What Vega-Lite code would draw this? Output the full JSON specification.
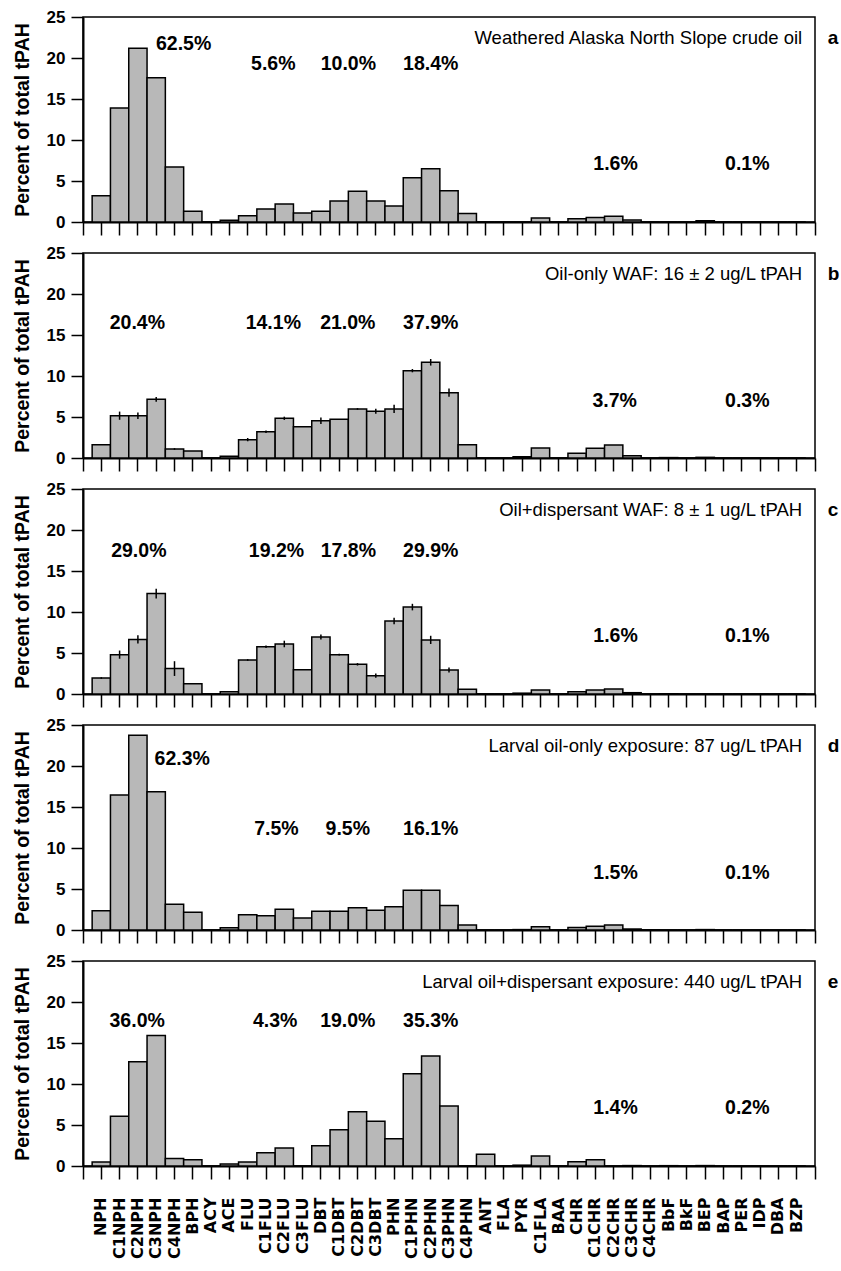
{
  "$schema": "https://vega.github.io/schema/vega-lite/v6.json",
  "background": "white",
  "padding": {"left": 11, "top": 7, "right": 2, "bottom": 2},
  "config": {
    "font": "Liberation Sans",
    "view": {"stroke": "black", "strokeWidth": 1.5},
    "axis": {"grid": false, "domainColor": "black", "domainWidth": 2, "tickColor": "black", "tickWidth": 1.5, "labelColor": "black", "titleColor": "black"}
  },
  "datasets": {
    "pah": [
      {"panel": "a", "compound": "NPH", "pct": 3.2}, {"panel": "a", "compound": "C1NPH", "pct": 13.9}, {"panel": "a", "compound": "C2NPH", "pct": 21.2}, {"panel": "a", "compound": "C3NPH", "pct": 17.6}, {"panel": "a", "compound": "C4NPH", "pct": 6.7}, {"panel": "a", "compound": "BPH", "pct": 1.3}, {"panel": "a", "compound": "ACY", "pct": 0}, {"panel": "a", "compound": "ACE", "pct": 0.2}, {"panel": "a", "compound": "FLU", "pct": 0.75}, {"panel": "a", "compound": "C1FLU", "pct": 1.6}, {"panel": "a", "compound": "C2FLU", "pct": 2.2}, {"panel": "a", "compound": "C3FLU", "pct": 1.1}, {"panel": "a", "compound": "DBT", "pct": 1.3}, {"panel": "a", "compound": "C1DBT", "pct": 2.55}, {"panel": "a", "compound": "C2DBT", "pct": 3.75}, {"panel": "a", "compound": "C3DBT", "pct": 2.55}, {"panel": "a", "compound": "PHN", "pct": 1.95}, {"panel": "a", "compound": "C1PHN", "pct": 5.4}, {"panel": "a", "compound": "C2PHN", "pct": 6.5}, {"panel": "a", "compound": "C3PHN", "pct": 3.8}, {"panel": "a", "compound": "C4PHN", "pct": 1.05}, {"panel": "a", "compound": "ANT", "pct": 0}, {"panel": "a", "compound": "FLA", "pct": 0}, {"panel": "a", "compound": "PYR", "pct": 0}, {"panel": "a", "compound": "C1FLA", "pct": 0.5}, {"panel": "a", "compound": "BAA", "pct": 0}, {"panel": "a", "compound": "CHR", "pct": 0.4}, {"panel": "a", "compound": "C1CHR", "pct": 0.55}, {"panel": "a", "compound": "C2CHR", "pct": 0.7}, {"panel": "a", "compound": "C3CHR", "pct": 0.25}, {"panel": "a", "compound": "C4CHR", "pct": 0}, {"panel": "a", "compound": "BbF", "pct": 0}, {"panel": "a", "compound": "BkF", "pct": 0}, {"panel": "a", "compound": "BEP", "pct": 0.15}, {"panel": "a", "compound": "BAP", "pct": 0}, {"panel": "a", "compound": "PER", "pct": 0}, {"panel": "a", "compound": "IDP", "pct": 0}, {"panel": "a", "compound": "DBA", "pct": 0}, {"panel": "a", "compound": "BZP", "pct": 0},

      {"panel": "b", "compound": "NPH", "pct": 1.63, "err": 0}, {"panel": "b", "compound": "C1NPH", "pct": 5.16, "err": 0.5}, {"panel": "b", "compound": "C2NPH", "pct": 5.16, "err": 0.4}, {"panel": "b", "compound": "C3NPH", "pct": 7.15, "err": 0.3}, {"panel": "b", "compound": "C4NPH", "pct": 1.1, "err": 0.1}, {"panel": "b", "compound": "BPH", "pct": 0.85, "err": 0}, {"panel": "b", "compound": "ACY", "pct": 0, "err": 0}, {"panel": "b", "compound": "ACE", "pct": 0.2, "err": 0}, {"panel": "b", "compound": "FLU", "pct": 2.24, "err": 0.2}, {"panel": "b", "compound": "C1FLU", "pct": 3.2, "err": 0.15}, {"panel": "b", "compound": "C2FLU", "pct": 4.84, "err": 0.2}, {"panel": "b", "compound": "C3FLU", "pct": 3.82, "err": 0}, {"panel": "b", "compound": "DBT", "pct": 4.55, "err": 0.4}, {"panel": "b", "compound": "C1DBT", "pct": 4.72, "err": 0}, {"panel": "b", "compound": "C2DBT", "pct": 5.98, "err": 0.1}, {"panel": "b", "compound": "C3DBT", "pct": 5.7, "err": 0.3}, {"panel": "b", "compound": "PHN", "pct": 5.98, "err": 0.5}, {"panel": "b", "compound": "C1PHN", "pct": 10.65, "err": 0.2}, {"panel": "b", "compound": "C2PHN", "pct": 11.67, "err": 0.4}, {"panel": "b", "compound": "C3PHN", "pct": 7.97, "err": 0.5}, {"panel": "b", "compound": "C4PHN", "pct": 1.63, "err": 0}, {"panel": "b", "compound": "ANT", "pct": 0, "err": 0}, {"panel": "b", "compound": "FLA", "pct": 0, "err": 0}, {"panel": "b", "compound": "PYR", "pct": 0.15, "err": 0}, {"panel": "b", "compound": "C1FLA", "pct": 1.22, "err": 0}, {"panel": "b", "compound": "BAA", "pct": 0, "err": 0}, {"panel": "b", "compound": "CHR", "pct": 0.57, "err": 0}, {"panel": "b", "compound": "C1CHR", "pct": 1.18, "err": 0}, {"panel": "b", "compound": "C2CHR", "pct": 1.59, "err": 0}, {"panel": "b", "compound": "C3CHR", "pct": 0.28, "err": 0}, {"panel": "b", "compound": "C4CHR", "pct": 0, "err": 0}, {"panel": "b", "compound": "BbF", "pct": 0.05, "err": 0}, {"panel": "b", "compound": "BkF", "pct": 0, "err": 0}, {"panel": "b", "compound": "BEP", "pct": 0.08, "err": 0}, {"panel": "b", "compound": "BAP", "pct": 0, "err": 0}, {"panel": "b", "compound": "PER", "pct": 0, "err": 0}, {"panel": "b", "compound": "IDP", "pct": 0, "err": 0}, {"panel": "b", "compound": "DBA", "pct": 0, "err": 0}, {"panel": "b", "compound": "BZP", "pct": 0, "err": 0},

      {"panel": "c", "compound": "NPH", "pct": 1.95, "err": 0.1}, {"panel": "c", "compound": "C1NPH", "pct": 4.8, "err": 0.5}, {"panel": "c", "compound": "C2NPH", "pct": 6.65, "err": 0.5}, {"panel": "c", "compound": "C3NPH", "pct": 12.25, "err": 0.6}, {"panel": "c", "compound": "C4NPH", "pct": 3.1, "err": 0.9}, {"panel": "c", "compound": "BPH", "pct": 1.26, "err": 0}, {"panel": "c", "compound": "ACY", "pct": 0, "err": 0}, {"panel": "c", "compound": "ACE", "pct": 0.28, "err": 0}, {"panel": "c", "compound": "FLU", "pct": 4.15, "err": 0.1}, {"panel": "c", "compound": "C1FLU", "pct": 5.77, "err": 0.15}, {"panel": "c", "compound": "C2FLU", "pct": 6.1, "err": 0.4}, {"panel": "c", "compound": "C3FLU", "pct": 2.97, "err": 0}, {"panel": "c", "compound": "DBT", "pct": 6.95, "err": 0.3}, {"panel": "c", "compound": "C1DBT", "pct": 4.8, "err": 0.1}, {"panel": "c", "compound": "C2DBT", "pct": 3.62, "err": 0.15}, {"panel": "c", "compound": "C3DBT", "pct": 2.24, "err": 0.25}, {"panel": "c", "compound": "PHN", "pct": 8.9, "err": 0.4}, {"panel": "c", "compound": "C1PHN", "pct": 10.6, "err": 0.4}, {"panel": "c", "compound": "C2PHN", "pct": 6.6, "err": 0.5}, {"panel": "c", "compound": "C3PHN", "pct": 2.93, "err": 0.3}, {"panel": "c", "compound": "C4PHN", "pct": 0.57, "err": 0}, {"panel": "c", "compound": "ANT", "pct": 0, "err": 0}, {"panel": "c", "compound": "FLA", "pct": 0, "err": 0}, {"panel": "c", "compound": "PYR", "pct": 0.1, "err": 0}, {"panel": "c", "compound": "C1FLA", "pct": 0.49, "err": 0}, {"panel": "c", "compound": "BAA", "pct": 0, "err": 0}, {"panel": "c", "compound": "CHR", "pct": 0.28, "err": 0}, {"panel": "c", "compound": "C1CHR", "pct": 0.49, "err": 0}, {"panel": "c", "compound": "C2CHR", "pct": 0.61, "err": 0}, {"panel": "c", "compound": "C3CHR", "pct": 0.16, "err": 0}, {"panel": "c", "compound": "C4CHR", "pct": 0, "err": 0}, {"panel": "c", "compound": "BbF", "pct": 0.03, "err": 0}, {"panel": "c", "compound": "BkF", "pct": 0, "err": 0}, {"panel": "c", "compound": "BEP", "pct": 0, "err": 0}, {"panel": "c", "compound": "BAP", "pct": 0, "err": 0}, {"panel": "c", "compound": "PER", "pct": 0, "err": 0}, {"panel": "c", "compound": "IDP", "pct": 0, "err": 0}, {"panel": "c", "compound": "DBA", "pct": 0, "err": 0}, {"panel": "c", "compound": "BZP", "pct": 0, "err": 0},

      {"panel": "d", "compound": "NPH", "pct": 2.36}, {"panel": "d", "compound": "C1NPH", "pct": 16.46}, {"panel": "d", "compound": "C2NPH", "pct": 23.74}, {"panel": "d", "compound": "C3NPH", "pct": 16.87}, {"panel": "d", "compound": "C4NPH", "pct": 3.13}, {"panel": "d", "compound": "BPH", "pct": 2.15}, {"panel": "d", "compound": "ACY", "pct": 0}, {"panel": "d", "compound": "ACE", "pct": 0.28}, {"panel": "d", "compound": "FLU", "pct": 1.87}, {"panel": "d", "compound": "C1FLU", "pct": 1.75}, {"panel": "d", "compound": "C2FLU", "pct": 2.52}, {"panel": "d", "compound": "C3FLU", "pct": 1.46}, {"panel": "d", "compound": "DBT", "pct": 2.28}, {"panel": "d", "compound": "C1DBT", "pct": 2.28}, {"panel": "d", "compound": "C2DBT", "pct": 2.72}, {"panel": "d", "compound": "C3DBT", "pct": 2.4}, {"panel": "d", "compound": "PHN", "pct": 2.85}, {"panel": "d", "compound": "C1PHN", "pct": 4.84}, {"panel": "d", "compound": "C2PHN", "pct": 4.84}, {"panel": "d", "compound": "C3PHN", "pct": 3.0}, {"panel": "d", "compound": "C4PHN", "pct": 0.6}, {"panel": "d", "compound": "ANT", "pct": 0}, {"panel": "d", "compound": "FLA", "pct": 0}, {"panel": "d", "compound": "PYR", "pct": 0.05}, {"panel": "d", "compound": "C1FLA", "pct": 0.4}, {"panel": "d", "compound": "BAA", "pct": 0}, {"panel": "d", "compound": "CHR", "pct": 0.3}, {"panel": "d", "compound": "C1CHR", "pct": 0.45}, {"panel": "d", "compound": "C2CHR", "pct": 0.6}, {"panel": "d", "compound": "C3CHR", "pct": 0.12}, {"panel": "d", "compound": "C4CHR", "pct": 0.03}, {"panel": "d", "compound": "BbF", "pct": 0}, {"panel": "d", "compound": "BkF", "pct": 0}, {"panel": "d", "compound": "BEP", "pct": 0.05}, {"panel": "d", "compound": "BAP", "pct": 0}, {"panel": "d", "compound": "PER", "pct": 0}, {"panel": "d", "compound": "IDP", "pct": 0}, {"panel": "d", "compound": "DBA", "pct": 0}, {"panel": "d", "compound": "BZP", "pct": 0},

      {"panel": "e", "compound": "NPH", "pct": 0.49}, {"panel": "e", "compound": "C1NPH", "pct": 6.06}, {"panel": "e", "compound": "C2NPH", "pct": 12.72}, {"panel": "e", "compound": "C3NPH", "pct": 15.9}, {"panel": "e", "compound": "C4NPH", "pct": 0.9}, {"panel": "e", "compound": "BPH", "pct": 0.77}, {"panel": "e", "compound": "ACY", "pct": 0}, {"panel": "e", "compound": "ACE", "pct": 0.24}, {"panel": "e", "compound": "FLU", "pct": 0.49}, {"panel": "e", "compound": "C1FLU", "pct": 1.63}, {"panel": "e", "compound": "C2FLU", "pct": 2.2}, {"panel": "e", "compound": "C3FLU", "pct": 0}, {"panel": "e", "compound": "DBT", "pct": 2.48}, {"panel": "e", "compound": "C1DBT", "pct": 4.43}, {"panel": "e", "compound": "C2DBT", "pct": 6.63}, {"panel": "e", "compound": "C3DBT", "pct": 5.45}, {"panel": "e", "compound": "PHN", "pct": 3.33}, {"panel": "e", "compound": "C1PHN", "pct": 11.26}, {"panel": "e", "compound": "C2PHN", "pct": 13.41}, {"panel": "e", "compound": "C3PHN", "pct": 7.32}, {"panel": "e", "compound": "C4PHN", "pct": 0}, {"panel": "e", "compound": "ANT", "pct": 1.42}, {"panel": "e", "compound": "FLA", "pct": 0}, {"panel": "e", "compound": "PYR", "pct": 0.1}, {"panel": "e", "compound": "C1FLA", "pct": 1.22}, {"panel": "e", "compound": "BAA", "pct": 0}, {"panel": "e", "compound": "CHR", "pct": 0.53}, {"panel": "e", "compound": "C1CHR", "pct": 0.77}, {"panel": "e", "compound": "C2CHR", "pct": 0}, {"panel": "e", "compound": "C3CHR", "pct": 0.05}, {"panel": "e", "compound": "C4CHR", "pct": 0}, {"panel": "e", "compound": "BbF", "pct": 0.04}, {"panel": "e", "compound": "BkF", "pct": 0}, {"panel": "e", "compound": "BEP", "pct": 0.05}, {"panel": "e", "compound": "BAP", "pct": 0}, {"panel": "e", "compound": "PER", "pct": 0}, {"panel": "e", "compound": "IDP", "pct": 0}, {"panel": "e", "compound": "DBA", "pct": 0}, {"panel": "e", "compound": "BZP", "pct": 0}
    ],
    "shares": [
      {"panel": "a", "label": "62.5%", "k": 5.5, "y": 21.7}, {"panel": "a", "label": "5.6%", "k": 10.4, "y": 19.3}, {"panel": "a", "label": "10.0%", "k": 14.5, "y": 19.3}, {"panel": "a", "label": "18.4%", "k": 19.0, "y": 19.3}, {"panel": "a", "label": "1.6%", "k": 29.1, "y": 7.1}, {"panel": "a", "label": "0.1%", "k": 36.3, "y": 7.1},
      {"panel": "b", "label": "20.4%", "k": 2.97, "y": 16.5}, {"panel": "b", "label": "14.1%", "k": 10.4, "y": 16.5}, {"panel": "b", "label": "21.0%", "k": 14.47, "y": 16.5}, {"panel": "b", "label": "37.9%", "k": 19.0, "y": 16.5}, {"panel": "b", "label": "3.7%", "k": 29.05, "y": 7.0}, {"panel": "b", "label": "0.3%", "k": 36.3, "y": 7.0},
      {"panel": "c", "label": "29.0%", "k": 3.05, "y": 17.4}, {"panel": "c", "label": "19.2%", "k": 10.57, "y": 17.4}, {"panel": "c", "label": "17.8%", "k": 14.5, "y": 17.4}, {"panel": "c", "label": "29.9%", "k": 19.0, "y": 17.4}, {"panel": "c", "label": "1.6%", "k": 29.1, "y": 7.1}, {"panel": "c", "label": "0.1%", "k": 36.3, "y": 7.1},
      {"panel": "d", "label": "62.3%", "k": 5.42, "y": 20.8}, {"panel": "d", "label": "7.5%", "k": 10.57, "y": 12.3}, {"panel": "d", "label": "9.5%", "k": 14.47, "y": 12.3}, {"panel": "d", "label": "16.1%", "k": 19.0, "y": 12.3}, {"panel": "d", "label": "1.5%", "k": 29.1, "y": 7.0}, {"panel": "d", "label": "0.1%", "k": 36.3, "y": 7.0},
      {"panel": "e", "label": "36.0%", "k": 2.96, "y": 17.7}, {"panel": "e", "label": "4.3%", "k": 10.5, "y": 17.7}, {"panel": "e", "label": "19.0%", "k": 14.47, "y": 17.7}, {"panel": "e", "label": "35.3%", "k": 19.0, "y": 17.7}, {"panel": "e", "label": "1.4%", "k": 29.1, "y": 7.1}, {"panel": "e", "label": "0.2%", "k": 36.3, "y": 7.1}
    ],
    "panels": [
      {"panel": "a", "title": "Weathered Alaska North Slope crude oil", "letter": "a"},
      {"panel": "b", "title": "Oil-only WAF: 16 ± 2 ug/L tPAH", "letter": "b"},
      {"panel": "c", "title": "Oil+dispersant WAF: 8 ± 1 ug/L tPAH", "letter": "c"},
      {"panel": "d", "title": "Larval oil-only exposure: 87 ug/L tPAH", "letter": "d"},
      {"panel": "e", "title": "Larval oil+dispersant exposure: 440 ug/L tPAH", "letter": "e"}
    ]
  },
  "spacing": 31,
  "bounds": "flush",
  "vconcat": [
    {
      "width": 732, "height": 205,
      "layer": [
        {
          "data": {"name": "pah"}, "transform": [{"filter": "datum.panel === 'a'"}],
          "mark": {"type": "bar", "fill": "#b8b8b8", "stroke": "black", "strokeWidth": 1.5},
          "encoding": {
            "x": {"field": "compound", "type": "nominal", "sort": null, "scale": {"paddingInner": 0, "paddingOuter": 0.5}, "axis": {"title": null, "labels": false, "tickSize": 13}},
            "y": {"field": "pct", "type": "quantitative", "scale": {"domain": [0, 25], "nice": false}, "axis": {"title": "Percent of total tPAH", "values": [0, 2.5, 5, 7.5, 10, 12.5, 15, 17.5, 20, 22.5, 25], "labelExpr": "datum.value % 5 === 0 ? datum.label : ''", "tickSize": {"condition": {"test": "datum.value % 5 === 0", "value": 12}, "value": 6}, "labelFontSize": 17, "labelFontWeight": "bold", "labelPadding": 6, "titleFontSize": 19.5, "titleFontWeight": "bold", "titlePadding": 14}}
          }
        },
        {
          "data": {"name": "shares"}, "transform": [{"filter": "datum.panel === 'a'"}],
          "mark": {"type": "text", "fontSize": 19.5, "fontWeight": "bold", "color": "black"},
          "encoding": {"x": {"field": "k", "type": "quantitative", "scale": {"domain": [0, 40]}, "axis": {"orient": "bottom", "values": [0, 40], "labels": false, "domain": false, "tickSize": 13, "title": null}}, "y": {"field": "y", "type": "quantitative"}, "text": {"field": "label"}}
        },
        {
          "data": {"name": "panels"}, "transform": [{"filter": "datum.panel === 'a'"}],
          "mark": {"type": "text", "align": "right", "fontSize": 18.5, "color": "black"},
          "encoding": {"x": {"datum": 39.3, "type": "quantitative", "scale": {"domain": [0, 40]}, "axis": null}, "y": {"datum": 22.4, "type": "quantitative"}, "text": {"field": "title"}}
        },
        {
          "data": {"name": "panels"}, "transform": [{"filter": "datum.panel === 'a'"}],
          "mark": {"type": "text", "align": "left", "fontSize": 19, "fontWeight": "bold", "color": "black"},
          "encoding": {"x": {"datum": 40.7, "type": "quantitative", "scale": {"domain": [0, 40]}, "axis": null}, "y": {"datum": 22.4, "type": "quantitative"}, "text": {"field": "letter"}}
        }
      ],
      "resolve": {"scale": {"x": "independent"}, "axis": {"x": "independent"}}
    },
    {
      "width": 732, "height": 205,
      "layer": [
        {
          "data": {"name": "pah"}, "transform": [{"filter": "datum.panel === 'b'"}],
          "layer": [
            {
              "mark": {"type": "bar", "fill": "#b8b8b8", "stroke": "black", "strokeWidth": 1.5},
              "encoding": {
                "x": {"field": "compound", "type": "nominal", "sort": null, "scale": {"paddingInner": 0, "paddingOuter": 0.5}, "axis": {"title": null, "labels": false, "tickSize": 13}},
                "y": {"field": "pct", "type": "quantitative", "title": "Percent of total tPAH", "scale": {"domain": [0, 25], "nice": false}, "axis": {"values": [0, 2.5, 5, 7.5, 10, 12.5, 15, 17.5, 20, 22.5, 25], "labelExpr": "datum.value % 5 === 0 ? datum.label : ''", "tickSize": {"condition": {"test": "datum.value % 5 === 0", "value": 12}, "value": 6}, "labelFontSize": 17, "labelFontWeight": "bold", "labelPadding": 6, "titleFontSize": 19.5, "titleFontWeight": "bold", "titlePadding": 14}}
              }
            },
            {
              "mark": {"type": "errorbar", "color": "black", "thickness": 1.5},
              "encoding": {"x": {"field": "compound", "type": "nominal", "sort": null}, "y": {"field": "pct", "type": "quantitative", "title": "Percent of total tPAH"}, "yError": {"field": "err"}}
            }
          ]
        },
        {
          "data": {"name": "shares"}, "transform": [{"filter": "datum.panel === 'b'"}],
          "mark": {"type": "text", "fontSize": 19.5, "fontWeight": "bold", "color": "black"},
          "encoding": {"x": {"field": "k", "type": "quantitative", "scale": {"domain": [0, 40]}, "axis": {"orient": "bottom", "values": [0, 40], "labels": false, "domain": false, "tickSize": 13, "title": null}}, "y": {"field": "y", "type": "quantitative"}, "text": {"field": "label"}}
        },
        {
          "data": {"name": "panels"}, "transform": [{"filter": "datum.panel === 'b'"}],
          "mark": {"type": "text", "align": "right", "fontSize": 18.5, "color": "black"},
          "encoding": {"x": {"datum": 39.3, "type": "quantitative", "scale": {"domain": [0, 40]}, "axis": null}, "y": {"datum": 22.4, "type": "quantitative"}, "text": {"field": "title"}}
        },
        {
          "data": {"name": "panels"}, "transform": [{"filter": "datum.panel === 'b'"}],
          "mark": {"type": "text", "align": "left", "fontSize": 19, "fontWeight": "bold", "color": "black"},
          "encoding": {"x": {"datum": 40.7, "type": "quantitative", "scale": {"domain": [0, 40]}, "axis": null}, "y": {"datum": 22.4, "type": "quantitative"}, "text": {"field": "letter"}}
        }
      ],
      "resolve": {"scale": {"x": "independent"}, "axis": {"x": "independent"}}
    },
    {
      "width": 732, "height": 205,
      "layer": [
        {
          "data": {"name": "pah"}, "transform": [{"filter": "datum.panel === 'c'"}],
          "layer": [
            {
              "mark": {"type": "bar", "fill": "#b8b8b8", "stroke": "black", "strokeWidth": 1.5},
              "encoding": {
                "x": {"field": "compound", "type": "nominal", "sort": null, "scale": {"paddingInner": 0, "paddingOuter": 0.5}, "axis": {"title": null, "labels": false, "tickSize": 13}},
                "y": {"field": "pct", "type": "quantitative", "title": "Percent of total tPAH", "scale": {"domain": [0, 25], "nice": false}, "axis": {"values": [0, 2.5, 5, 7.5, 10, 12.5, 15, 17.5, 20, 22.5, 25], "labelExpr": "datum.value % 5 === 0 ? datum.label : ''", "tickSize": {"condition": {"test": "datum.value % 5 === 0", "value": 12}, "value": 6}, "labelFontSize": 17, "labelFontWeight": "bold", "labelPadding": 6, "titleFontSize": 19.5, "titleFontWeight": "bold", "titlePadding": 14}}
              }
            },
            {
              "mark": {"type": "errorbar", "color": "black", "thickness": 1.5},
              "encoding": {"x": {"field": "compound", "type": "nominal", "sort": null}, "y": {"field": "pct", "type": "quantitative", "title": "Percent of total tPAH"}, "yError": {"field": "err"}}
            }
          ]
        },
        {
          "data": {"name": "shares"}, "transform": [{"filter": "datum.panel === 'c'"}],
          "mark": {"type": "text", "fontSize": 19.5, "fontWeight": "bold", "color": "black"},
          "encoding": {"x": {"field": "k", "type": "quantitative", "scale": {"domain": [0, 40]}, "axis": {"orient": "bottom", "values": [0, 40], "labels": false, "domain": false, "tickSize": 13, "title": null}}, "y": {"field": "y", "type": "quantitative"}, "text": {"field": "label"}}
        },
        {
          "data": {"name": "panels"}, "transform": [{"filter": "datum.panel === 'c'"}],
          "mark": {"type": "text", "align": "right", "fontSize": 18.5, "color": "black"},
          "encoding": {"x": {"datum": 39.3, "type": "quantitative", "scale": {"domain": [0, 40]}, "axis": null}, "y": {"datum": 22.4, "type": "quantitative"}, "text": {"field": "title"}}
        },
        {
          "data": {"name": "panels"}, "transform": [{"filter": "datum.panel === 'c'"}],
          "mark": {"type": "text", "align": "left", "fontSize": 19, "fontWeight": "bold", "color": "black"},
          "encoding": {"x": {"datum": 40.7, "type": "quantitative", "scale": {"domain": [0, 40]}, "axis": null}, "y": {"datum": 22.4, "type": "quantitative"}, "text": {"field": "letter"}}
        }
      ],
      "resolve": {"scale": {"x": "independent"}, "axis": {"x": "independent"}}
    },
    {
      "width": 732, "height": 205,
      "layer": [
        {
          "data": {"name": "pah"}, "transform": [{"filter": "datum.panel === 'd'"}],
          "mark": {"type": "bar", "fill": "#b8b8b8", "stroke": "black", "strokeWidth": 1.5},
          "encoding": {
            "x": {"field": "compound", "type": "nominal", "sort": null, "scale": {"paddingInner": 0, "paddingOuter": 0.5}, "axis": {"title": null, "labels": false, "tickSize": 13}},
            "y": {"field": "pct", "type": "quantitative", "scale": {"domain": [0, 25], "nice": false}, "axis": {"title": "Percent of total tPAH", "values": [0, 2.5, 5, 7.5, 10, 12.5, 15, 17.5, 20, 22.5, 25], "labelExpr": "datum.value % 5 === 0 ? datum.label : ''", "tickSize": {"condition": {"test": "datum.value % 5 === 0", "value": 12}, "value": 6}, "labelFontSize": 17, "labelFontWeight": "bold", "labelPadding": 6, "titleFontSize": 19.5, "titleFontWeight": "bold", "titlePadding": 14}}
          }
        },
        {
          "data": {"name": "shares"}, "transform": [{"filter": "datum.panel === 'd'"}],
          "mark": {"type": "text", "fontSize": 19.5, "fontWeight": "bold", "color": "black"},
          "encoding": {"x": {"field": "k", "type": "quantitative", "scale": {"domain": [0, 40]}, "axis": {"orient": "bottom", "values": [0, 40], "labels": false, "domain": false, "tickSize": 13, "title": null}}, "y": {"field": "y", "type": "quantitative"}, "text": {"field": "label"}}
        },
        {
          "data": {"name": "panels"}, "transform": [{"filter": "datum.panel === 'd'"}],
          "mark": {"type": "text", "align": "right", "fontSize": 18.5, "color": "black"},
          "encoding": {"x": {"datum": 39.3, "type": "quantitative", "scale": {"domain": [0, 40]}, "axis": null}, "y": {"datum": 22.4, "type": "quantitative"}, "text": {"field": "title"}}
        },
        {
          "data": {"name": "panels"}, "transform": [{"filter": "datum.panel === 'd'"}],
          "mark": {"type": "text", "align": "left", "fontSize": 19, "fontWeight": "bold", "color": "black"},
          "encoding": {"x": {"datum": 40.7, "type": "quantitative", "scale": {"domain": [0, 40]}, "axis": null}, "y": {"datum": 22.4, "type": "quantitative"}, "text": {"field": "letter"}}
        }
      ],
      "resolve": {"scale": {"x": "independent"}, "axis": {"x": "independent"}}
    },
    {
      "width": 732, "height": 205,
      "layer": [
        {
          "data": {"name": "pah"}, "transform": [{"filter": "datum.panel === 'e'"}],
          "mark": {"type": "bar", "fill": "#b8b8b8", "stroke": "black", "strokeWidth": 1.5},
          "encoding": {
            "x": {"field": "compound", "type": "nominal", "sort": null, "scale": {"paddingInner": 0, "paddingOuter": 0.5}, "axis": {"title": null, "labelAngle": -90, "labelFont": "DejaVu Sans", "labelFontSize": 16, "labelFontWeight": "bold", "labelPadding": 18, "tickSize": 13}},
            "y": {"field": "pct", "type": "quantitative", "scale": {"domain": [0, 25], "nice": false}, "axis": {"title": "Percent of total tPAH", "values": [0, 2.5, 5, 7.5, 10, 12.5, 15, 17.5, 20, 22.5, 25], "labelExpr": "datum.value % 5 === 0 ? datum.label : ''", "tickSize": {"condition": {"test": "datum.value % 5 === 0", "value": 12}, "value": 6}, "labelFontSize": 17, "labelFontWeight": "bold", "labelPadding": 6, "titleFontSize": 19.5, "titleFontWeight": "bold", "titlePadding": 14}}
          }
        },
        {
          "data": {"name": "shares"}, "transform": [{"filter": "datum.panel === 'e'"}],
          "mark": {"type": "text", "fontSize": 19.5, "fontWeight": "bold", "color": "black"},
          "encoding": {"x": {"field": "k", "type": "quantitative", "scale": {"domain": [0, 40]}, "axis": {"orient": "bottom", "values": [0, 40], "labels": false, "domain": false, "tickSize": 13, "title": null}}, "y": {"field": "y", "type": "quantitative"}, "text": {"field": "label"}}
        },
        {
          "data": {"name": "panels"}, "transform": [{"filter": "datum.panel === 'e'"}],
          "mark": {"type": "text", "align": "right", "fontSize": 18.5, "color": "black"},
          "encoding": {"x": {"datum": 39.3, "type": "quantitative", "scale": {"domain": [0, 40]}, "axis": null}, "y": {"datum": 22.4, "type": "quantitative"}, "text": {"field": "title"}}
        },
        {
          "data": {"name": "panels"}, "transform": [{"filter": "datum.panel === 'e'"}],
          "mark": {"type": "text", "align": "left", "fontSize": 19, "fontWeight": "bold", "color": "black"},
          "encoding": {"x": {"datum": 40.7, "type": "quantitative", "scale": {"domain": [0, 40]}, "axis": null}, "y": {"datum": 22.4, "type": "quantitative"}, "text": {"field": "letter"}}
        }
      ],
      "resolve": {"scale": {"x": "independent"}, "axis": {"x": "independent"}}
    }
  ]
}
